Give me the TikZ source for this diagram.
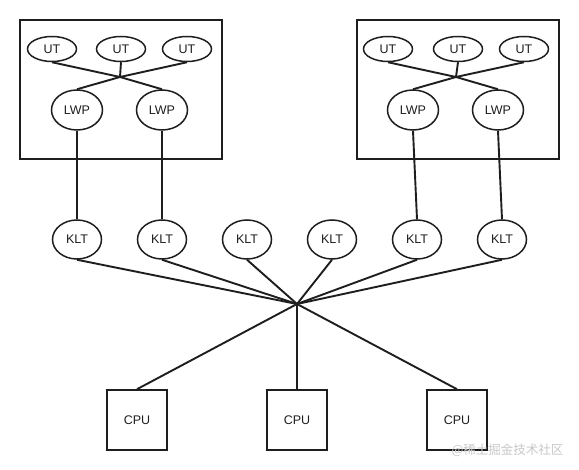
\documentclass[tikz,border=0pt]{standalone}
\usepackage{fontspec}
\setmainfont{Liberation Sans}
\newfontfamily\cjkfont{Noto Sans CJK SC}
\usetikzlibrary{shapes.geometric}
\definecolor{ink}{RGB}{30,30,30}
\definecolor{wm}{RGB}{200,200,200}
\begin{document}
\begin{tikzpicture}[x=1pt,y=-1pt,
  every node/.style={font=\fontsize{12.5}{14}\selectfont, text=ink},
  lnk/.style={draw=ink, line width=1.9pt},
  ut/.style={ellipse, draw=ink, line width=1.5pt, minimum width=49pt, minimum height=25pt, inner sep=0pt},
  lwp/.style={ellipse, draw=ink, line width=1.5pt, minimum width=51pt, minimum height=40pt, inner sep=0pt},
  klt/.style={ellipse, draw=ink, line width=1.5pt, minimum width=49pt, minimum height=39pt, inner sep=0pt},
  cpu/.style={rectangle, draw=ink, line width=1.6pt, minimum width=60pt, minimum height=60pt, inner sep=0pt},
  frame/.style={draw=ink, line width=1.8pt}]
\useasboundingbox (0,0) rectangle (579,470);
\fill[white] (0,0) rectangle (579,470);

% boxes
\draw[frame] (20,20) rectangle (222,159);
\draw[frame] (357,20) rectangle (559,159);

% left group
\node[ut] (ua) at (52,49) {UT};
\node[ut] (ub) at (121,49) {UT};
\node[ut] (uc) at (187,49) {UT};
\coordinate (ja) at (120,77);
\node[lwp] (la) at (77,110) {LWP};
\node[lwp] (lb) at (162,110) {LWP};

% right group
\node[ut] (ud) at (388,49) {UT};
\node[ut] (ue) at (458,49) {UT};
\node[ut] (uf) at (524,49) {UT};
\coordinate (jb) at (456,77);
\node[lwp] (lc) at (413,110) {LWP};
\node[lwp] (ld) at (498,110) {LWP};

% KLT row
\node[klt] (k1) at (77,239.5) {KLT};
\node[klt] (k2) at (162,239.5) {KLT};
\node[klt] (k3) at (247,239.5) {KLT};
\node[klt] (k4) at (332,239.5) {KLT};
\node[klt] (k5) at (417,239.5) {KLT};
\node[klt] (k6) at (502,239.5) {KLT};

\coordinate (hub) at (297,304);

% CPUs
\node[cpu] (c1) at (137,420) {CPU};
\node[cpu] (c2) at (297,420) {CPU};
\node[cpu] (c3) at (457,420) {CPU};

% connectors in boxes
\draw[lnk] (ua.south) -- (ja);
\draw[lnk] (ub.south) -- (ja);
\draw[lnk] (uc.south) -- (ja);
\draw[lnk] (ja) -- (la.north);
\draw[lnk] (ja) -- (lb.north);
\draw[lnk] (ud.south) -- (jb);
\draw[lnk] (ue.south) -- (jb);
\draw[lnk] (uf.south) -- (jb);
\draw[lnk] (jb) -- (lc.north);
\draw[lnk] (jb) -- (ld.north);

% LWP to KLT
\draw[lnk] (la.south) -- (k1.north);
\draw[lnk] (lb.south) -- (k2.north);
\draw[lnk] (lc.south) -- (k5.north);
\draw[lnk] (ld.south) -- (k6.north);

% KLT to hub
\foreach \k in {k1,k2,k3,k4,k5,k6} \draw[lnk] (\k.south) -- (hub);

% hub to CPU
\draw[lnk] (hub) -- (c1.north);
\draw[lnk] (hub) -- (c2.north);
\draw[lnk] (hub) -- (c3.north);

% watermark
\node[font=\cjkfont\fontsize{12.5}{14}\selectfont, text=wm, anchor=east] (wmk) at (567,450) {@稀土掘金技术社区};
\end{tikzpicture}
\end{document}
